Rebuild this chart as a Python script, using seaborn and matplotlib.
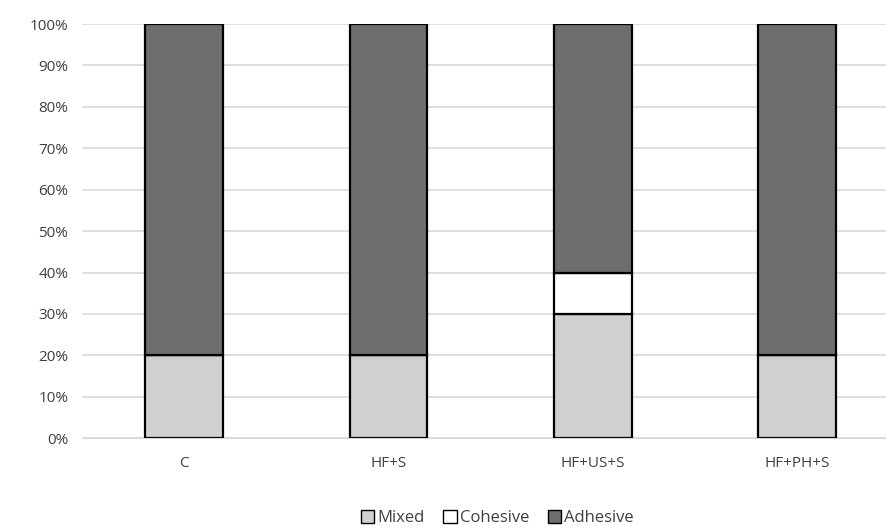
import pandas as pd
import seaborn as sns
import matplotlib.pyplot as plt
from matplotlib.patches import Patch

groups = ['C', 'HF+S', 'HF+US+S', 'HF+PH+S']
mixed = [20, 20, 30, 20]
cohesive = [0, 0, 10, 0]
adhesive = [80, 80, 60, 80]

df = pd.DataFrame({'group': groups, 'Mixed': mixed,
                   'Cohesive': cohesive, 'Adhesive': adhesive})

sns.set_style('white')
plt.rcParams['font.family'] = ['Open Sans', 'DejaVu Sans']

fig = plt.figure(figsize=(8.87, 5.28), dpi=100)
ax = fig.add_axes([0.0925, 0.170, 0.9075, 0.7845])

colors = {'Mixed': '#d0d0d0', 'Cohesive': '#ffffff', 'Adhesive': '#6e6e6e'}
bottom = [0] * len(groups)
for col in ['Mixed', 'Cohesive', 'Adhesive']:
    sns.barplot(data=df, x='group', y=col, color=colors[col], bottom=bottom,
                width=0.38, edgecolor='black', linewidth=1.6, ax=ax,
                saturation=1, zorder=3)
    bottom = [b + v for b, v in zip(bottom, df[col])]

ax.set_ylim(0, 100)
ax.set_xlim(-0.5, 3.44)
ax.set_yticks(range(0, 101, 10))
ax.set_yticklabels([f'{t}%' for t in range(0, 101, 10)])
ax.yaxis.grid(True, color='#d9d9d9', linewidth=1.2, zorder=0)
ax.set_axisbelow(True)
for s in ['top', 'right', 'left']:
    ax.spines[s].set_visible(False)
ax.spines['bottom'].set_color('#d9d9d9')
ax.set_xlabel('')
ax.set_ylabel('')
ax.tick_params(axis='both', length=0, labelsize=11, colors='#595959', pad=10)
ax.tick_params(axis='x', pad=13)
for lbl in ax.get_xticklabels() + ax.get_yticklabels():
    lbl.set_color('#404040')

handles = [Patch(facecolor=colors[c], edgecolor='black', label=c)
           for c in ['Mixed', 'Cohesive', 'Adhesive']]
fig.legend(handles=handles, loc='lower center', bbox_to_anchor=(0.561, -0.025),
           ncol=3, frameon=False, fontsize=12, handlelength=0.8,
           handleheight=0.8, handletextpad=0.2, columnspacing=1.1,
           labelcolor='#404040')

fig.savefig('out.png', dpi=100)
